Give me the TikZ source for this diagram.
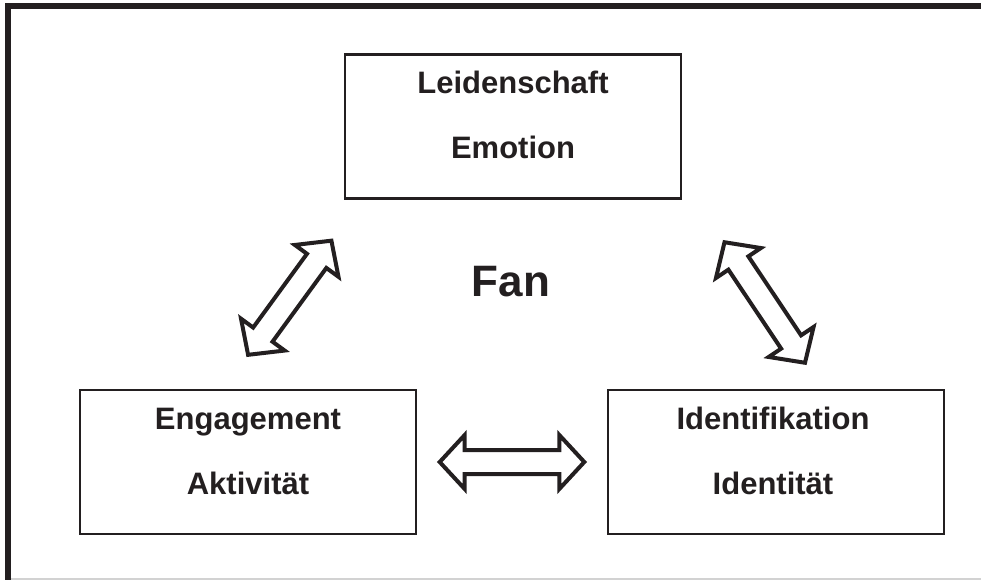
\documentclass[tikz,border=0pt]{standalone}
\usepackage{fontspec}
\setmainfont{Liberation Sans}
\usetikzlibrary{calc}
\definecolor{ink}{HTML}{231F20}
\tikzset{
  box/.style={draw=ink, line width=2.2pt, minimum width=336pt, minimum height=144pt, inner sep=0pt},
  lbl/.style={text=ink, font=\fontsize{31}{31}\selectfont\bfseries, anchor=base, inner sep=0pt},
  arrowline/.style={draw=ink, line width=4pt, line join=miter, fill=white},
}
\newcommand\hollowarrow[2]{%
  \draw[arrowline] let \p1=($(#2)-(#1)$), \n1={atan2(\y1,\x1)}, \n2={veclen(\x1,\y1)} in
    [shift={(#1)}, rotate=\n1]
    (2.7,0) -- (27.7,27) -- (27.7,12) -- (\n2-27.7,12) -- (\n2-27.7,27) -- (\n2-2.7,0)
    -- (\n2-27.7,-27) -- (\n2-27.7,-12) -- (27.7,-12) -- (27.7,-27) -- cycle;}
\begin{document}
\begin{tikzpicture}[x=1pt,y=-1pt]
\useasboundingbox (0,0) rectangle (981,580);
% frame
\draw[ink, line width=6pt] (8,585) -- (8,6.5) -- (985,6.5);
\draw[gray!35, line width=1.5pt] (11,579) -- (985,579);
% boxes
\node[box] (top) at (513,126.5) {};
\node[box] (left) at (248,462) {};
\node[box] (right) at (776,462) {};
% texts
\node[lbl] (t1) at (513,94) {Leidenschaft};
\node[lbl] (t2) at (513,159) {Emotion};
\node[lbl] (l1) at (248,429.5) {Engagement};
\node[lbl] (l2) at (248,494.5) {Aktivität};
\node[lbl] (r1) at (773,429.5) {Identifikation};
\node[lbl] (r2) at (773,494.5) {Identität};
\node[lbl, font=\fontsize{44}{44}\selectfont\bfseries] (fan) at (511,296) {Fan};
% arrows
\coordinate (a1) at (246.5,357);
\coordinate (a2) at (333,238.5);
\coordinate (b1) at (723,240);
\coordinate (b2) at (806.5,365);
\coordinate (c1) at (437,462);
\coordinate (c2) at (587,462);
\hollowarrow{a1}{a2}
\hollowarrow{b1}{b2}
\hollowarrow{c1}{c2}
\end{tikzpicture}
\end{document}
